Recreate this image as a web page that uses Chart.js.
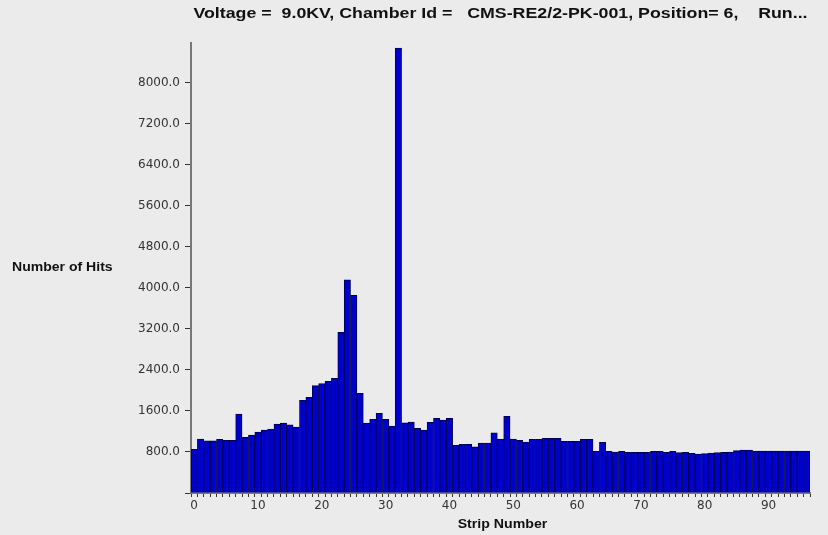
<!DOCTYPE html>
<html>
<head>
<meta charset="utf-8">
<script src="https://cdn.jsdelivr.net/npm/chart.js@4.4.0/dist/chart.umd.min.js"></script>
<style>
  html, body { margin: 0; padding: 0; background: #ebebeb; }
  #wrap { width: 828px; height: 535px; }
</style>
</head>
<body>
<div id="wrap"><canvas id="hitsChart" width="828" height="535"></canvas></div>
<script>
const chartTitle = "Voltage =  9.0KV, Chamber Id =   CMS-RE2/2-PK-001, Position= 6,    Run...";
const yTitle = "Number of Hits";
const xTitle = "Strip Number";

// strip numbers 0..96
const strips = Array.from({ length: 97 }, (_, i) => String(i));
const xTickLabels = ["0", "10", "20", "30", "40", "50", "60", "70", "80", "90"];
const yTickValues = [0, 800, 1600, 2400, 3200, 4000, 4800, 5600, 6400, 7200, 8000];

const hits = [
    850, 1053, 1020, 1020, 1046, 1027, 1027, 1540, 1086, 1131,
    1190, 1229, 1248, 1346, 1365, 1332, 1287, 1810, 1868, 2095,
    2135, 2178, 2236, 3133, 4160, 3855, 1944, 1365, 1437, 1554,
    1437, 1306, 8680, 1371, 1385, 1261, 1229, 1378, 1456, 1424,
    1456, 930, 950, 950, 903, 975, 975, 1176, 1053, 1498,
    1053, 1027, 995, 1046, 1046, 1066, 1066, 1066, 1007, 1007,
    1007, 1046, 1046, 813, 988, 813, 800, 813, 794, 794,
    794, 794, 813, 813, 794, 813, 787, 794, 774, 761,
    767, 780, 787, 794, 800, 826, 839, 839, 820, 820,
    820, 820, 820, 820, 820, 820, 820
];

const tickFont = { family: '"DejaVu Sans", Arial, sans-serif', size: 12 };

// the original picture is a bit wider than tall, so text gets stretched sideways
function wideText(ctx, text, x, y, sx) {
    ctx.save();
    ctx.translate(x, y);
    ctx.scale(sx, 1);
    ctx.fillText(text, 0, 0);
    ctx.restore();
}

const extraText = {
    id: "extraText",
    afterDraw(chart) {
        const { ctx, chartArea } = chart;
        const mid = (chartArea.left + chartArea.right) / 2;
        ctx.save();
        ctx.fillStyle = "#111";
        ctx.textBaseline = "middle";
        ctx.font = 'bold 14px "Liberation Sans", Arial, sans-serif';
        ctx.textAlign = "center";
        wideText(ctx, chartTitle, mid, 14, 1.27);
        ctx.font = 'bold 12px "Liberation Sans", Arial, sans-serif';
        wideText(ctx, xTitle, mid + 2, 525, 1.18);
        ctx.textAlign = "left";
        wideText(ctx, yTitle, 12, (chartArea.top + chartArea.bottom) / 2, 1.17);
        ctx.restore();
    }
};

new Chart(document.getElementById("hitsChart"), {
    type: "bar",
    data: {
        labels: strips,
        datasets: [{
            label: "Hits",
            data: hits,
            backgroundColor: "#0000cc",
            borderColor: "#000050",
            borderWidth: 1,
            barPercentage: 1.0,
            categoryPercentage: 1.0
        }]
    },
    options: {
        responsive: false,
        animation: false,
        layout: { padding: { top: 43, right: 18, left: 0, bottom: 0 } },
        plugins: {
            legend: { display: false },
            title: { display: false },
            tooltip: { enabled: false }
        },
        scales: {
            x: {
                afterFit: s => { s.height = 42; },
                grid: { drawOnChartArea: false, drawTicks: true, tickLength: 4, color: "#333", offset: true },
                border: { display: true, color: "#777", width: 2 },
                ticks: {
                    autoSkip: false,
                    maxRotation: 0,
                    padding: 2,
                    color: "#333",
                    font: tickFont,
                    callback: function (val) {
                        const lab = this.getLabelForValue(val);
                        return xTickLabels.includes(lab) ? lab : "";
                    }
                }
            },
            y: {
                min: 0,
                max: 8780,
                afterFit: s => { s.width = 191; },
                afterBuildTicks: s => { s.ticks = yTickValues.map(v => ({ value: v })); },
                grid: { drawOnChartArea: false, drawTicks: true, tickLength: 6, color: "#333" },
                border: { display: true, color: "#777", width: 2 },
                ticks: {
                    padding: 5,
                    color: "#333",
                    font: tickFont,
                    callback: v => v === 0 ? "" : v.toFixed(1)
                }
            }
        }
    },
    plugins: [extraText]
});
</script>
</body>
</html>
